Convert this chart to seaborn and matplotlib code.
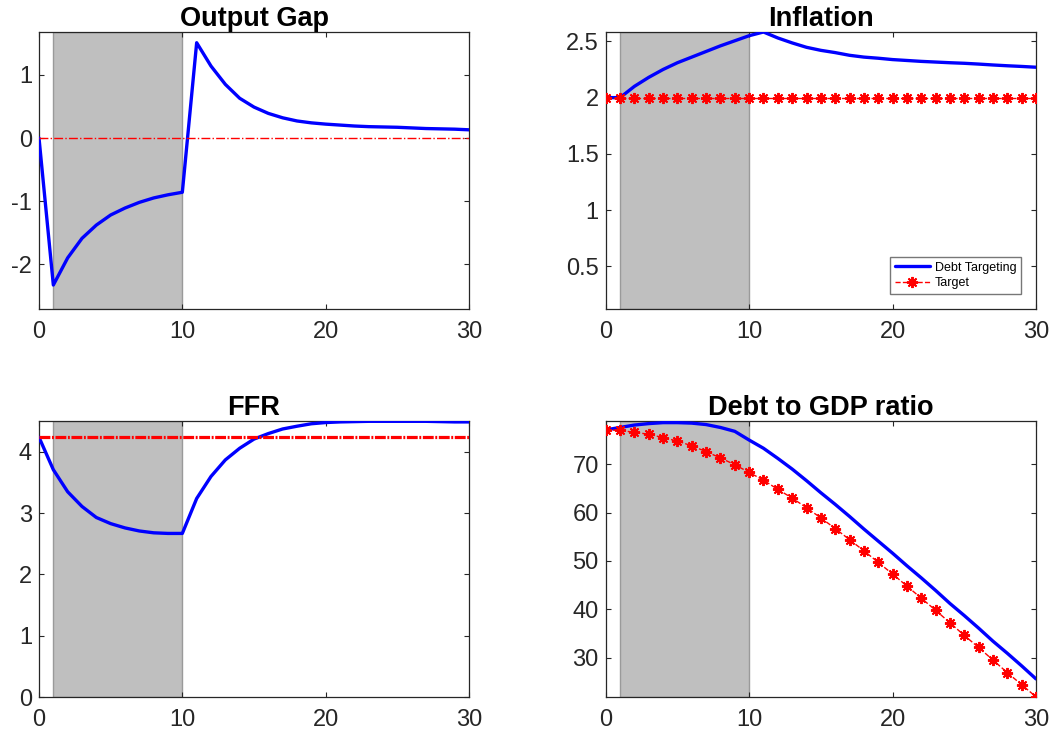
import numpy as np
import pandas as pd
import matplotlib
matplotlib.use("Agg")
import matplotlib.pyplot as plt
import seaborn as sns

periods = list(range(31))

output_gap = [0.0, -2.33, -1.90, -1.59, -1.38, -1.22, -1.11, -1.02, -0.95, -0.90, -0.86,
              1.51, 1.14, 0.85, 0.63, 0.49, 0.39, 0.32, 0.27, 0.24, 0.22,
              0.205, 0.19, 0.18, 0.175, 0.17, 0.16, 0.15, 0.145, 0.14, 0.13]
output_gap_target = [0.0] * 31

inflation = [2.0, 2.0, 2.10, 2.18, 2.25, 2.31, 2.36, 2.41, 2.46, 2.505, 2.55,
             2.583, 2.53, 2.486, 2.447, 2.42, 2.40, 2.376, 2.36, 2.35, 2.338,
             2.33, 2.322, 2.316, 2.31, 2.305, 2.298, 2.29, 2.283, 2.277, 2.27]
inflation_target = [2.0] * 31

ffr = [4.24, 3.71, 3.35, 3.11, 2.93, 2.83, 2.76, 2.71, 2.68, 2.67, 2.67,
       3.24, 3.60, 3.87, 4.06, 4.21, 4.30, 4.375, 4.42, 4.46, 4.48,
       4.49, 4.495, 4.50, 4.50, 4.50, 4.50, 4.50, 4.495, 4.49, 4.49]
ffr_target = [4.24] * 31

debt = [77.1, 77.6, 78.1, 78.4, 78.6, 78.6, 78.5, 78.2, 77.6, 76.8, 75.0,
        73.3, 71.2, 69.0, 66.6, 64.1, 61.7, 59.2, 56.6, 54.1, 51.6,
        49.0, 46.5, 43.9, 41.2, 38.7, 36.1, 33.4, 30.9, 28.3, 25.6]
debt_target = [77.1, 77.0, 76.6, 76.2, 75.5, 74.8, 73.8, 72.6, 71.3, 69.9, 68.3,
               66.7, 64.8, 63.0, 61.0, 58.9, 56.7, 54.4, 52.1, 49.7, 47.3,
               44.8, 42.3, 39.8, 37.2, 34.6, 32.1, 29.5, 26.9, 24.4, 21.9]

titles = ["Output Gap", "Inflation", "FFR", "Debt to GDP ratio"]
shade_start, shade_end = 1, 10
x_ticks = [0, 10, 20, 30]
y_ticks = [[-2, -1, 0, 1], [0.5, 1, 1.5, 2, 2.5], [0, 1, 2, 3, 4], [30, 40, 50, 60, 70]]
y_ticklabels = [["-2", "-1", "0", "1"], ["0.5", "1", "1.5", "2", "2.5"],
                ["0", "1", "2", "3", "4"], ["30", "40", "50", "60", "70"]]
y_limits = [(-2.71, 1.68), (0.122, 2.583), (0.0, 4.51), (21.86, 79.0)]

sns.set_theme(style="white")
plt.rcParams['font.family'] = ['Liberation Sans', 'DejaVu Sans']

fig = plt.figure(figsize=(10.53, 7.38), dpi=100)
positions = [
    [39 / 1053, 1 - 309 / 738, 430 / 1053, 277 / 738],
    [605.7 / 1053, 1 - 309 / 738, 430.3 / 1053, 277 / 738],
    [39 / 1053, 1 - 697 / 738, 430 / 1053, 276.3 / 738],
    [605.7 / 1053, 1 - 697 / 738, 430.3 / 1053, 276.3 / 738],
]
axes = [fig.add_axes(p) for p in positions]

blue = "#0000FF"
red = "#FF0000"
star = (8, 2, 0)

series = [(output_gap, output_gap_target), (inflation, inflation_target),
          (ffr, ffr_target), (debt, debt_target)]

for i, ax in enumerate(axes):
    ax.axvspan(shade_start, shade_end, facecolor="#BFBFBF", edgecolor="#9a9a9a",
               linewidth=1.0, zorder=0)
    main, tgt = series[i]
    df = pd.DataFrame({"t": periods, "main": main, "target": tgt})
    sns.lineplot(data=df, x="t", y="main", ax=ax, color=blue, linewidth=2.4,
                 label="Debt Targeting", zorder=3)
    if i == 0:
        sns.lineplot(data=df, x="t", y="target", ax=ax, color=red, linewidth=1.0,
                     linestyle="-.", label="Target", zorder=4)
    elif i == 2:
        sns.lineplot(data=df, x="t", y="target", ax=ax, color=red, linewidth=1.0,
                     label="Target", zorder=4)
        ln = ax.lines[-1]
        ln.set_linewidth(2.3)
        ln.set_dashes((3.4, 0.5, 0.6, 0.5))
    else:
        sns.lineplot(data=df, x="t", y="target", ax=ax, color=red, linewidth=1.0,
                     linestyle="--", marker=star, markersize=8, markeredgewidth=1.4,
                     markeredgecolor=red, label="Target", zorder=4)
    ax.set_xlim(0, 30)
    ax.set_ylim(*y_limits[i])
    ax.set_xticks(x_ticks)
    ax.set_xticklabels([str(t) for t in x_ticks])
    ax.set_yticks(y_ticks[i])
    ax.set_yticklabels(y_ticklabels[i])
    ax.set_xlabel("")
    ax.set_ylabel("")
    ax.set_title(titles[i], fontsize=19.5, fontweight="bold", color="black", pad=4)
    for s in ax.spines.values():
        s.set_visible(True)
        s.set_color("#262626")
        s.set_linewidth(0.9)
    ax.tick_params(axis="both", which="both", direction="in", length=3.3, width=0.8,
                   colors="#262626", labelsize=17, top=True, right=True,
                   bottom=True, left=True)
    ax.tick_params(axis="x", pad=8.5)
    ax.tick_params(axis="y", pad=5)
    if i == 1:
        leg = ax.legend(loc="lower right", bbox_to_anchor=(0.964, 0.055),
                        borderaxespad=0, fontsize=9, fancybox=False, frameon=True,
                        edgecolor="#555555", handlelength=2.8, borderpad=0.35,
                        labelspacing=0.3, handletextpad=0.4, numpoints=1)
        leg.get_frame().set_linewidth(1.0)
        for t in leg.get_texts():
            t.set_color("black")
    else:
        lg = ax.get_legend()
        if lg is not None:
            lg.remove()

fig.savefig("out.png", dpi=100, facecolor="white")
